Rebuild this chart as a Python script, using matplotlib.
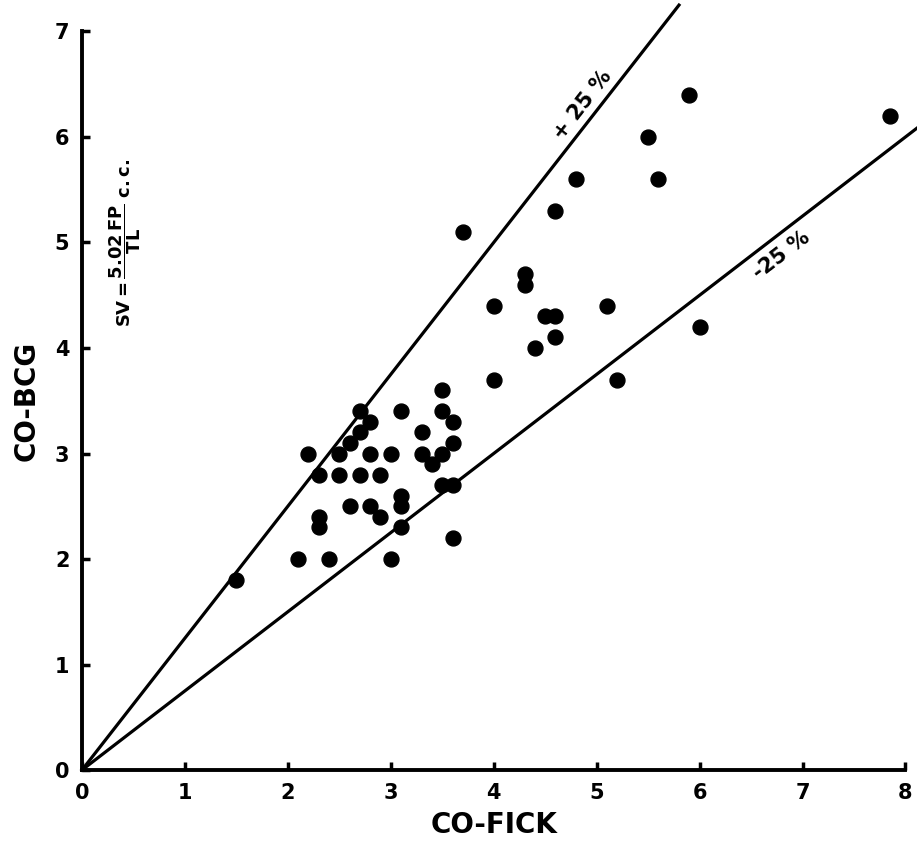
import matplotlib
matplotlib.use('Agg')
import matplotlib.pyplot as plt
import numpy as np

# CO-Fick vs CO-BCG
co_fick = [1.5, 2.1, 2.4, 3.0, 2.2, 2.3, 2.3, 2.3, 2.5, 2.5,
           2.6, 2.6, 2.7, 2.7, 2.7, 2.8, 2.8, 2.8, 2.9, 2.9,
           3.0, 3.1, 3.1, 3.1, 3.1, 3.3, 3.3, 3.4, 3.5, 3.5,
           3.5, 3.5, 3.6, 3.6, 3.6, 3.6, 3.7, 4.0, 4.0, 4.3,
           4.3, 4.4, 4.5, 4.6, 4.6, 4.6, 4.8, 5.1, 5.2, 5.5,
           5.6, 5.9, 6.0, 7.85]
co_bcg = [1.8, 2.0, 2.0, 2.0, 3.0, 2.8, 2.4, 2.3, 3.0, 2.8,
          3.1, 2.5, 3.4, 3.2, 2.8, 3.3, 3.0, 2.5, 2.8, 2.4,
          3.0, 3.4, 2.6, 2.5, 2.3, 3.2, 3.0, 2.9, 3.6, 3.4,
          3.0, 2.7, 3.3, 3.1, 2.7, 2.2, 5.1, 4.4, 3.7, 4.7,
          4.6, 4.0, 4.3, 5.3, 4.3, 4.1, 5.6, 4.4, 3.7, 6.0,
          5.6, 6.4, 4.2, 6.2]

plus_x = [0, 5.8]
plus_y = [0, 7.25]
minus_x = [0, 8.12]
minus_y = [0, 6.09]

xticks = [0, 1, 2, 3, 4, 5, 6, 7, 8]
yticks = [0, 1, 2, 3, 4, 5, 6, 7]

fig = plt.figure(figsize=(9.17, 8.46), dpi=100)
ax = fig.add_axes([0.0894, 0.0898, 0.898, 0.873])

ax.plot(plus_x, plus_y, color='black', lw=2.3, clip_on=False)
ax.plot(minus_x, minus_y, color='black', lw=2.3, clip_on=False)
ax.scatter(co_fick, co_bcg, s=115, color='black', zorder=3, clip_on=False)

ax.set_xlim(0, 8)
ax.set_ylim(0, 7)
ax.set_xticks(xticks)
ax.set_yticks(yticks)
for s in ['top', 'right']:
    ax.spines[s].set_visible(False)
for s in ['left', 'bottom']:
    ax.spines[s].set_linewidth(2.8)
ax.tick_params(direction='in', length=6, width=2.5, labelsize=15, pad=9)
for lab in ax.get_xticklabels() + ax.get_yticklabels():
    lab.set_fontweight('bold')

ax.set_xlabel('CO-FICK', fontsize=20, fontweight='bold', labelpad=6)
ax.set_ylabel('CO-BCG', fontsize=20, fontweight='bold', labelpad=10)

ax.text(4.86, 6.30, '+ 25 %', rotation=52, fontsize=15, fontweight='bold',
        ha='center', va='center', rotation_mode='anchor')
ax.text(6.8, 4.88, '-25 %', rotation=37.5, fontsize=15, fontweight='bold',
        ha='center', va='center', rotation_mode='anchor')
ax.text(0.42, 5.0, r'$\mathbf{SV{=}\dfrac{5.02\,FP}{TL}}$ $\mathbf{c.c.}$',
        rotation=90, fontsize=13, ha='center', va='center')

fig.savefig('out.png', dpi=100)
